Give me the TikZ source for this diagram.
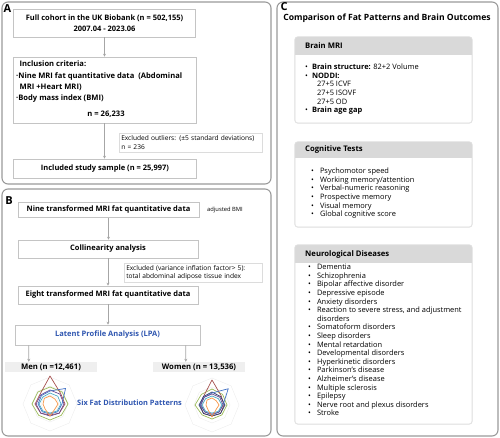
\documentclass[tikz,border=0pt]{standalone}
\usepackage{fontspec}
\setmainfont{Open Sans}
\usetikzlibrary{arrows.meta,calc}
\definecolor{panelgray}{HTML}{9A9A9A}
\definecolor{boxgray}{HTML}{C4C4C4}
\definecolor{notegray}{HTML}{DCDCDC}
\definecolor{arrgray}{HTML}{A6A6A6}
\definecolor{hdrgray}{HTML}{D9D9D9}
\definecolor{cardgray}{HTML}{E2E2E2}
\definecolor{lblfill}{HTML}{EFEFEF}
\definecolor{lpablue}{HTML}{2F56B0}
\definecolor{gridgray}{HTML}{ECECEC}
\definecolor{cRed}{HTML}{A5504E}
\definecolor{cBlue}{HTML}{4472C4}
\definecolor{cGreen}{HTML}{9BBB59}
\definecolor{cPurple}{HTML}{6A4C93}
\definecolor{cCyan}{HTML}{4BACC6}
\definecolor{cOrange}{HTML}{F79646}
\definecolor{cNavy}{HTML}{2B3A6B}
\newcommand\radpoly[4]{\draw[#2] ($(#1)+(90:#3pt)$) \foreach \rr [count=\ii] in {#4} { -- ($(#1)+(90-45*\ii:\rr pt)$) } -- cycle;}
\begin{document}
\begin{tikzpicture}[x=1pt,y=-1pt,
  panel/.style={draw=panelgray, line width=1.1pt, rounded corners=6pt},
  fbox/.style={draw=boxgray, fill=white, line width=0.6pt, inner sep=0pt, align=center, font=\bfseries\fontsize{7.5}{11}\selectfont},
  note/.style={draw=notegray, line width=0.5pt, inner xsep=2pt, inner ysep=0pt, align=left, anchor=north west, font=\fontsize{6.6}{8.5}\selectfont},
  arr/.style={draw=arrgray, line width=0.7pt, -{Stealth[length=3pt,width=3pt]}},
  lbl/.style={fill=lblfill, inner sep=0pt, font=\bfseries\fontsize{7.7}{8}\selectfont, minimum width=92pt, minimum height=10pt},
  card/.style={draw=cardgray, fill=white, line width=0.6pt, rounded corners=3pt, inner sep=0pt},
  hdr/.style={inner sep=0pt, anchor=west, font=\bfseries\fontsize{7.7}{9}\selectfont},
  lst/.style={inner sep=0pt, anchor=north west, font=\fontsize{7.45}{8.6}\selectfont},
  plain/.style={inner sep=0pt},
  panlbl/.style={inner sep=0pt, font=\bfseries\fontsize{11}{11}\selectfont},
  grid/.style={draw=gridgray, line width=0.4pt},
  rp/.style={line width=0.7pt, line join=round}
]
\useasboundingbox (0,0) rectangle (500,438);

% ---------------- Panel A ----------------
\draw[panel] (2,2) rectangle (271,184);
\node[panlbl] (lA) at (7.5,9) {A};
\node[fbox, minimum width=182pt, minimum height=28pt] (full) at (104.5,23)
  {Full cohort in the UK Biobank (n = 502,155)\\2007.04 - 2023.06};
\node[fbox, minimum width=183pt, minimum height=66pt] (inc) at (104.5,90) {};
\node[plain, anchor=north west, align=left, font=\bfseries\fontsize{7.6}{11.3}\selectfont] (inctext) at (16,61)
  {\hspace*{3.5pt}Inclusion criteria:\\
   ·Nine MRI fat quantitative data\ \ (Abdominal\\
   \hspace*{3.5pt}MRI +Heart MRI)\\
   ·Body mass index (BMI)};
\node[plain, font=\bfseries\fontsize{7.6}{8}\selectfont] (incn) at (106,114) {n = 26,233};
\node[note, text width=139pt, minimum height=19pt] (out) at (119,133)
  {Excluded outliers: (±5 standard deviations)\\n = 236};
\node[fbox, minimum width=183pt, minimum height=19pt] (incl) at (105,168.5)
  {Included study sample (n = 25,997)};
\draw[arr] (full.south) -- (full.south |- inc.north);
\draw[arr] (inc.south) -- (inc.south |- incl.north);

% ---------------- Panel B ----------------
\draw[panel] (2,189) rectangle (271,436);
\node[panlbl] (lB) at (9,201) {B};
\node[fbox, minimum width=181pt, minimum height=15pt] (nine) at (108.5,210)
  {Nine transformed MRI fat quantitative data};
\node[plain, anchor=west, font=\fontsize{5.8}{7}\selectfont] (adj) at (207,210) {adjusted BMI};
\node[fbox, minimum width=180pt, minimum height=18pt] (col) at (108,249)
  {Collinearity analysis};
\node[note, text width=134pt, minimum height=19pt] (vif) at (124,263)
  {Excluded (variance inflation factor> 5):\\total abdominal adipose tissue index};
\node[fbox, minimum width=180pt, minimum height=18pt] (eight) at (108,295)
  {Eight transformed MRI fat quantitative data};
\node[fbox, minimum width=185pt, minimum height=20pt, text=lpablue] (lpa) at (107.5,335)
  {Latent Profile Analysis (LPA)};
\node[lbl] (men) at (51,367) {Men (n =12,461)};
\node[lbl] (women) at (199,367) {Women (n = 13,536)};
\node[plain, text=lpablue, font=\bfseries\fontsize{7.4}{8}\selectfont] (six) at (129.5,403)
  {Six Fat Distribution Patterns};
\draw[arr] (nine.south) -- (nine.south |- col.north);
\draw[arr] (col.south) -- (col.south |- eight.north);
\draw[arr] (eight.south) -- (eight.south |- lpa.north);
\draw[arr] ($(lpa.south west)+(14,0)$) -- ($(men.north west)+(24,0)$);
\draw[arr] ($(lpa.south west)+(171,0)$) -- ($(women.north west)+(33,0)$);

% radar charts
\coordinate (rL) at (50,404);
\coordinate (rR) at (212,405);
\foreach \c in {rL,rR}{
  \foreach \g in {9,18,27}{
    \radpoly{\c}{grid}{\g}{\g,\g,\g,\g,\g,\g,\g}
  }
}
% left
\radpoly{rL}{rp,cGreen}{17}{17,18,16,16,16,18,17}
\radpoly{rL}{rp,cRed}{28}{15,15,13,11,13,15,14}
\radpoly{rL}{rp,cPurple}{14}{14,14,13,12,13,14,13}
\radpoly{rL}{rp,cBlue}{13}{22,12,11,10,11,12,12}
\radpoly{rL}{rp,cCyan}{11}{11,11,10,9,10,11,10}
\radpoly{rL}{rp,cOrange}{8}{7,8,7,12,7,7,8}
% right
\radpoly{rR}{rp,cGreen}{16}{15,15,14,14,14,17,15}
\radpoly{rR}{rp,cRed}{25}{13,12,12,11,12,12,12}
\radpoly{rR}{rp,cNavy}{13}{12,13,12,11,12,13,12}
\radpoly{rR}{rp,cBlue}{12}{23,11,10,10,10,12,11}
\radpoly{rR}{rp,cPurple}{11}{11,11,10,9,10,11,11}
\radpoly{rR}{rp,cCyan}{9}{9,10,9,8,9,10,9}
\radpoly{rR}{rp,cOrange}{7}{6,7,6,12,6,6,7}

% ---------------- Panel C ----------------
\draw[panel] (277,2) rectangle (498,436);
\node[panlbl] (lC) at (284,7) {C};
\node[plain, font=\bfseries\fontsize{8.6}{10}\selectfont] (title) at (387,18.5)
  {Comparison of Fat Patterns and Brain Outcomes};

% Brain MRI card
\node[card, minimum width=177pt, minimum height=86pt] (mri) at (383.5,80) {};
\begin{scope}
  \clip[rounded corners=3pt] (mri.north west) rectangle (mri.south east);
  \fill[hdrgray] (mri.north west) rectangle ($(mri.north east)+(0,18)$);
\end{scope}
\draw[draw=cardgray, line width=0.6pt, rounded corners=3pt] (mri.north west) rectangle (mri.south east);
\node[hdr] (mrih) at (305,46) {Brain MRI};
\node[lst] (mril) at (305,63.5)
  {\begin{tabular}{@{}l@{\hspace{4pt}}l@{}}
   • & \textbf{Brain structure:} 82+2 Volume\\
   • & \textbf{NODDI:}\\
     & \hspace*{5pt}27+5 ICVF\\
     & \hspace*{5pt}27+5 ISOVF\\
     & \hspace*{5pt}27+5 OD\\
   • & \textbf{Brain age gap}
   \end{tabular}};

% Cognitive tests card
\node[card, minimum width=177pt, minimum height=85pt] (cog) at (383.5,184.5) {};
\begin{scope}
  \clip[rounded corners=3pt] (cog.north west) rectangle (cog.south east);
  \fill[hdrgray] (cog.north west) rectangle ($(cog.north east)+(0,16)$);
\end{scope}
\draw[draw=cardgray, line width=0.6pt, rounded corners=3pt] (cog.north west) rectangle (cog.south east);
\node[hdr] (cogh) at (305,150) {Cognitive Tests};
\node[lst] (cogl) at (311,167.5)
  {\begin{tabular}{@{}l@{\hspace{6pt}}l@{}}
   • & Psychomotor speed\\
   • & Working memory/attention\\
   • & Verbal-numeric reasoning\\
   • & Prospective memory\\
   • & Visual memory\\
   • & Global cognitive score
   \end{tabular}};

% Neurological diseases card
\node[card, minimum width=177pt, minimum height=179pt] (neu) at (383.5,334.5) {};
\begin{scope}
  \clip[rounded corners=3pt] (neu.north west) rectangle (neu.south east);
  \fill[hdrgray] (neu.north west) rectangle ($(neu.north east)+(0,18)$);
\end{scope}
\draw[draw=cardgray, line width=0.6pt, rounded corners=3pt] (neu.north west) rectangle (neu.south east);
\node[hdr] (neuh) at (305,254) {Neurological Diseases};
\node[lst] (neul) at (308,263.5)
  {\begin{tabular}{@{}l@{\hspace{6pt}}l@{}}
   • & Dementia\\
   • & Schizophrenia\\
   • & Bipolar affective disorder\\
   • & Depressive episode\\
   • & Anxiety disorders\\
   • & Reaction to severe stress, and adjustment\\
     & disorders\\
   • & Somatoform disorders\\
   • & Sleep disorders\\
   • & Mental retardation\\
   • & Developmental disorders\\
   • & Hyperkinetic disorders\\
   • & Parkinson's disease\\
   • & Alzheimer's disease\\
   • & Multiple sclerosis\\
   • & Epilepsy\\
   • & Nerve root and plexus disorders\\
   • & Stroke
   \end{tabular}};
\end{tikzpicture}
\end{document}
